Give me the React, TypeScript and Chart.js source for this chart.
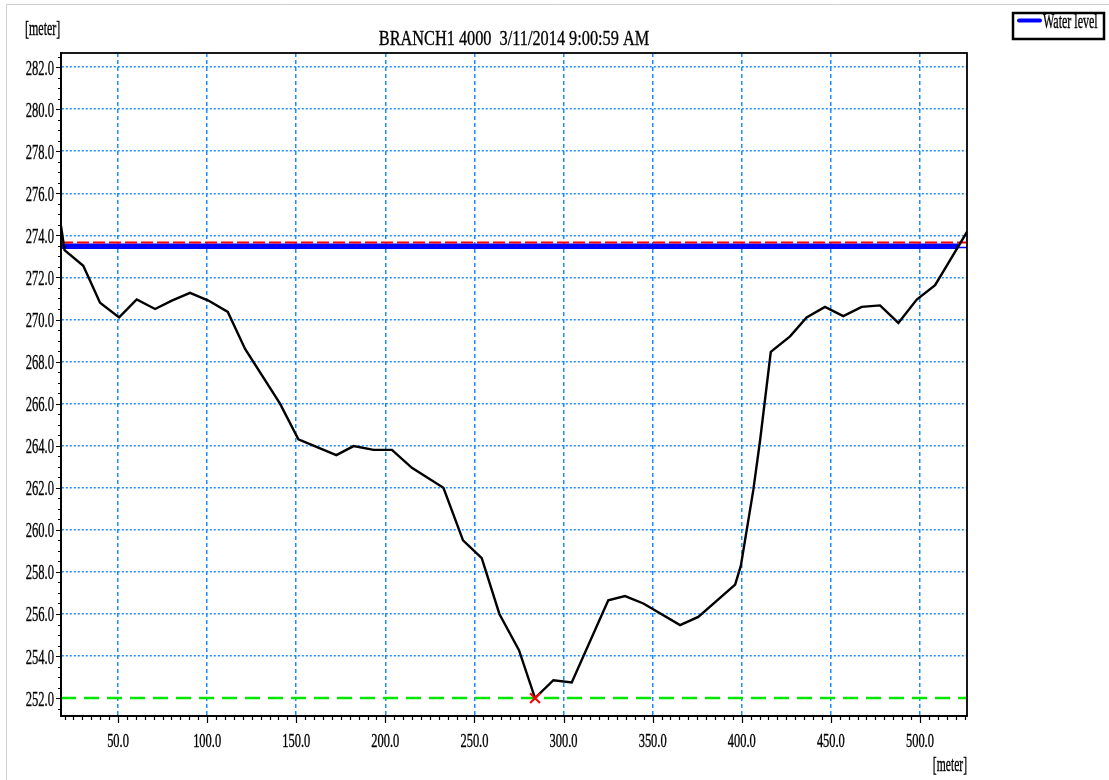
import React, { useEffect, useRef } from "react";
import { Chart, registerables } from "chart.js";

Chart.register(...registerables);

// ---- data ----
const stationX = [18.0, 20.0, 30.5, 39.9, 50.6, 60.5, 70.8, 80.2, 90.4, 100.7, 111.6, 121.3, 140.9, 151.2, 172.5, 182.2, 193.4, 203.7, 214.9, 232.6, 243.6, 254.1, 264.0, 275.0, 284.0, 294.3, 304.6, 325.1, 334.5, 344.8, 365.4, 375.6, 396.3, 399.5, 406.5, 410.3, 416.3, 427.1, 436.4, 446.7, 457.0, 467.3, 477.6, 487.9, 498.2, 508.5, 526.4];
const bedLevel = [274.45, 273.3, 272.55, 270.8, 270.1, 270.95, 270.5, 270.9, 271.27, 270.9, 270.36, 268.6, 266.0, 264.3, 263.55, 263.98, 263.8, 263.8, 262.95, 262.0, 259.5, 258.65, 256.0, 254.28, 252.0, 252.85, 252.74, 256.65, 256.85, 256.5, 255.47, 255.86, 257.4, 258.3, 261.9, 264.26, 268.46, 269.2, 270.1, 270.6, 270.16, 270.6, 270.67, 269.84, 270.95, 271.63, 274.17];

const waterLevel = 273.48;
const waterExtentX = [18.0, 521.5];
const thinWaterLevel = 273.42;
const redLevel = 273.66;
const minBedLevel = 252.0;
const fullExtentX = [18.0, 526.4];
const minPointX = [284.0];
const minPointZ = [252.0];

const xTickValues = [50, 100, 150, 200, 250, 300, 350, 400, 450, 500];
const yTickValues = [252, 254, 256, 258, 260, 262, 264, 266, 268, 270, 272, 274, 276, 278, 280, 282];
const xRange = [18.0, 526.4];
const yRange = [251.15, 282.67];

const titleText = "BRANCH1 4000  3/11/2014 9:00:59 AM";
const yUnitText = "[meter]";
const xUnitText = "[meter]";
const legendLabel = "Water level";

const FONT = "'Liberation Serif', 'Times New Roman', serif";

function drawScaledText(ctx: CanvasRenderingContext2D, text: string, x: number, y: number, size: number, sx: number, align: CanvasTextAlign, bold = 0.35) {
  ctx.save();
  ctx.font = `${size}px ${FONT}`;
  ctx.fillStyle = "#000";
  ctx.strokeStyle = "#000";
  ctx.textAlign = align;
  ctx.textBaseline = "alphabetic";
  ctx.translate(x, y);
  ctx.scale(sx, 1);
  ctx.fillText(text, 0, 0);
  if (bold > 0) {
    ctx.lineWidth = bold;
    ctx.strokeText(text, 0, 0);
  }
  ctx.restore();
}

const decorPlugin = {
  id: "decor",
  afterDraw(chart: any) {
    const ctx: CanvasRenderingContext2D = chart.ctx;
    const area = chart.chartArea;
    const xs = chart.scales.x;
    const ys = chart.scales.y;

    // screenshot frame lines
    ctx.save();
    ctx.strokeStyle = "#cfcfcf";
    ctx.lineWidth = 1;
    ctx.beginPath();
    ctx.moveTo(6.5, 780);
    ctx.lineTo(6.5, 4.5);
    ctx.lineTo(1109, 4.5);
    ctx.stroke();
    ctx.restore();

    // plot frame
    ctx.save();
    ctx.strokeStyle = "#000";
    ctx.lineWidth = 1.8;
    ctx.strokeRect(area.left, area.top, area.right - area.left, area.bottom - area.top);

    // ticks
    ctx.lineWidth = 1.2;
    ctx.beginPath();
    for (let v = 20; v <= xRange[1]; v += 5) {
      const px = Math.round(xs.getPixelForValue(v)) + 0.5;
      const major = v % 50 === 0;
      ctx.moveTo(px, area.bottom);
      ctx.lineTo(px, area.bottom + (major ? 7 : 4));
    }
    for (let v = 251.5; v <= yRange[1]; v += 0.5) {
      const py = Math.round(ys.getPixelForValue(v)) + 0.5;
      const major = Math.abs(v % 2) < 1e-6;
      ctx.moveTo(area.left, py);
      ctx.lineTo(area.left - (major ? 5 : 3), py);
    }
    ctx.stroke();
    ctx.restore();

    // tick labels
    xs.ticks.forEach((t: any) => {
      const px = xs.getPixelForValue(t.value);
      drawScaledText(ctx, t.value.toFixed(1), px, 747, 18, 0.69, "center");
    });
    ys.ticks.forEach((t: any) => {
      const py = ys.getPixelForValue(t.value);
      drawScaledText(ctx, t.value.toFixed(1), 54, py + 7.5, 21, 0.6, "right");
    });

    // title and units
    drawScaledText(ctx, titleText, (area.left + area.right) / 2, 45, 22, 0.74, "center");
    drawScaledText(ctx, yUnitText, 25, 35, 20, 0.6, "left");
    drawScaledText(ctx, xUnitText, area.right, 771, 20, 0.58, "right");

    // legend
    ctx.save();
    ctx.fillStyle = "#fff";
    ctx.fillRect(1013, 13, 91, 26);
    ctx.strokeStyle = "#000";
    ctx.lineWidth = 2.5;
    ctx.strokeRect(1013, 13, 91, 26);
    ctx.strokeStyle = "#0000ff";
    ctx.lineWidth = 4;
    ctx.lineCap = "round";
    ctx.beginPath();
    ctx.moveTo(1019, 20.5);
    ctx.lineTo(1040, 20.5);
    ctx.stroke();
    ctx.restore();
    drawScaledText(ctx, legendLabel, 1043, 28, 20, 0.6, "left");
  },
};

const line = (xs: number[], level: number) => xs.map((x) => ({ x, y: level }));

export default function App() {
  const ref = useRef<HTMLCanvasElement | null>(null);

  useEffect(() => {
    if (!ref.current) return;
    const chart = new Chart(ref.current, {
      type: "line",
      data: {
        datasets: [
          {
            label: "Lowest point",
            data: minPointX.map((x, i) => ({ x, y: minPointZ[i] })),
            showLine: false,
            pointStyle: "crossRot",
            pointRadius: 7,
            pointBorderColor: "#ff0000",
            pointBorderWidth: 2,
            borderColor: "#ff0000",
          },
          {
            label: "Bed",
            data: stationX.map((x, i) => ({ x, y: bedLevel[i] })),
            borderColor: "#000000",
            borderWidth: 2.4,
            pointRadius: 0,
            tension: 0,
          },
          {
            label: "Red level",
            data: line(fullExtentX, redLevel),
            borderColor: "#ff0000",
            borderWidth: 2,
            borderDash: [12, 4],
            pointRadius: 0,
          },
          {
            label: "Water level",
            data: line(waterExtentX, waterLevel),
            borderColor: "#0000ff",
            borderWidth: 5.5,
            pointRadius: 0,
          },
          {
            label: "Water level thin",
            data: line(fullExtentX, thinWaterLevel),
            borderColor: "#0000ff",
            borderWidth: 1.5,
            pointRadius: 0,
          },
          {
            label: "Lowest level",
            data: line(fullExtentX, minBedLevel),
            borderColor: "#00e600",
            borderWidth: 2.5,
            borderDash: [15, 8],
            pointRadius: 0,
          },
        ],
      },
      options: {
        responsive: false,
        animation: false,
        events: [],
        layout: { padding: { left: 0, top: 53, right: 142, bottom: 0 } },
        plugins: { legend: { display: false }, title: { display: false }, tooltip: { enabled: false } },
        scales: {
          x: {
            type: "linear",
            min: xRange[0],
            max: xRange[1],
            afterBuildTicks: (s: any) => {
              s.ticks = xTickValues.map((v) => ({ value: v }));
            },
            afterFit: (s: any) => {
              s.height = 64;
            },
            ticks: { display: false },
            grid: { color: "#1e8cff", lineWidth: 1.5, drawTicks: false },
            border: { display: true, color: "#000", width: 1.8, dash: [4, 3] },
          },
          y: {
            type: "linear",
            min: yRange[0],
            max: yRange[1],
            afterBuildTicks: (s: any) => {
              s.ticks = yTickValues.map((v) => ({ value: v }));
            },
            afterFit: (s: any) => {
              s.width = 61;
            },
            ticks: { display: false },
            grid: {
              color: (c: any) => (c.tick && c.tick.value === minBedLevel ? "rgba(0,0,0,0)" : "#1e8cff"),
              lineWidth: 1.5,
              drawTicks: false,
            },
            border: { display: true, color: "#000", width: 1.8, dash: [2, 2] },
          },
        },
      },
      plugins: [decorPlugin],
    } as any);
    return () => chart.destroy();
  }, []);

  return (
    <div style={{ position: "absolute", left: 0, top: 0, width: 1109, height: 780, background: "#fff" }}>
      <canvas ref={ref} width={1109} height={780} style={{ display: "block", width: 1109, height: 780 }} />
    </div>
  );
}
